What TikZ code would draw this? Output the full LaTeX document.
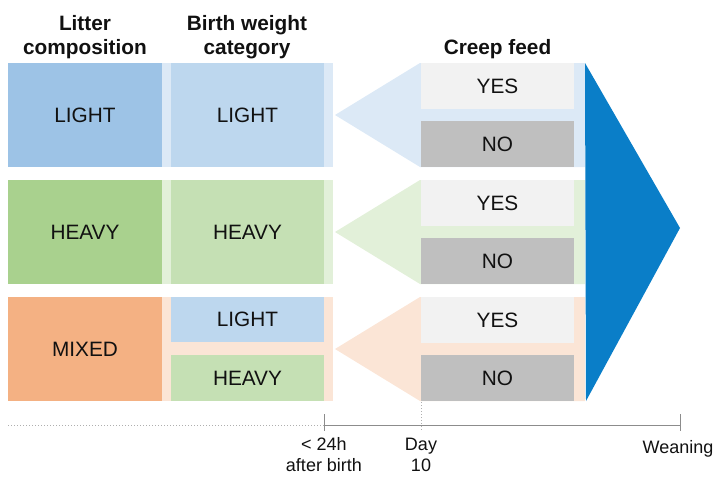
\documentclass[tikz,border=0pt]{standalone}
\usepackage{fontspec}
\setmainfont{Liberation Sans}
\definecolor{litL}{HTML}{9DC3E6}
\definecolor{birL}{HTML}{BDD7EE}
\definecolor{bandL}{HTML}{DCE9F6}
\definecolor{litH}{HTML}{A9D18E}
\definecolor{birH}{HTML}{C5E0B4}
\definecolor{bandH}{HTML}{E2F0D9}
\definecolor{litM}{HTML}{F4B183}
\definecolor{bandM}{HTML}{FBE5D6}
\definecolor{yesc}{HTML}{F2F2F2}
\definecolor{noc}{HTML}{BFBFBF}
\definecolor{bigblue}{RGB}{10,126,200}
\definecolor{axisc}{HTML}{8C8C8C}
\definecolor{txt}{HTML}{111111}
\newcommand\fbig{\fontsize{20.8}{24}\selectfont}
\newcommand\fsmall{\fontsize{18}{22}\selectfont}
\begin{document}
\begin{tikzpicture}[x=1pt,y=-1pt,
  cell/.style={draw=none,inner sep=0pt,outer sep=0pt,text=txt,font=\fbig,minimum width=#1},
  head/.style={inner sep=0pt,text=txt,font=\fbig\bfseries,anchor=base,align=center},
  tl/.style={inner sep=0pt,text=txt,font=\fsmall,anchor=base,align=center},
  axis/.style={draw=axisc,line width=1pt},
  dots/.style={draw=axisc!70,line width=1pt,dotted}]
\useasboundingbox (0,0) rectangle (715,477);

% ---- row bands and pointers ----
\foreach \T/\bc in {63/bandL,180/bandH,297/bandM}{
  \fill[\bc] (8,\T) rectangle (333,\T+104);
  \fill[\bc] (335,\T+52) -- (420,\T) -- (585,\T) -- (585,\T+104) -- (420,\T+104) -- cycle;
}

% ---- litter composition ----
\node[cell=154pt,minimum height=104pt,fill=litL] (litL) at (85,115) {LIGHT};
\node[cell=154pt,minimum height=104pt,fill=litH] (litH) at (85,232) {HEAVY};
\node[cell=154pt,minimum height=104pt,fill=litM] (litM) at (85,349) {MIXED};

% ---- birth weight category ----
\node[cell=153pt,minimum height=104pt,fill=birL] (birL) at (247.5,115) {LIGHT};
\node[cell=153pt,minimum height=104pt,fill=birH] (birH) at (247.5,232) {HEAVY};
\node[cell=153pt,minimum height=45pt,fill=birL] (birML) at (247.5,319.5) {LIGHT};
\node[cell=153pt,minimum height=46pt,fill=birH] (birMH) at (247.5,378) {HEAVY};

% ---- creep feed ----
\foreach \T/\n in {63/a,180/b,297/c}{
  \node[cell=153pt,minimum height=46pt,fill=yesc] (yes\n) at (497.5,\T+23) {YES};
  \node[cell=153pt,minimum height=46pt,fill=noc] (no\n) at (497.5,\T+81) {NO};
}

% ---- big arrow ----
\fill[bigblue] (585,63) -- (680,228) -- (586,401) -- cycle;

% ---- headers ----
\node[head] (h1a) at (85,30) {Litter};
\node[head] (h1b) at (85,54) {composition};
\node[head] (h2a) at (247,30) {Birth weight};
\node[head] (h2b) at (247,54) {category};
\node[head] (h3) at (497.5,54) {Creep feed};

% ---- timeline ----
\coordinate (t0) at (8,425);
\coordinate (t1) at (324,425);
\coordinate (t2) at (680,425);
\coordinate (t1a) at (324,414);
\coordinate (t1b) at (324,431);
\coordinate (t2a) at (680,414);
\coordinate (t2b) at (680,431);
\coordinate (d0) at (421,402);
\coordinate (d1) at (421,432);
\draw[dots] (t0) -- (t1);
\draw[axis] (t1) -- (t2);
\draw[axis] (t1a) -- (t1b);
\draw[axis] (t2a) -- (t2b);
\draw[dots] (d0) -- (d1);

\node[tl] (l1a) at (324,450) {< 24h};
\node[tl] (l1b) at (324,471) {after birth};
\node[tl] (l2a) at (421,450) {Day};
\node[tl] (l2b) at (421,471) {10};
\node[tl] (l3) at (678,453) {Weaning};
\end{tikzpicture}
\end{document}
